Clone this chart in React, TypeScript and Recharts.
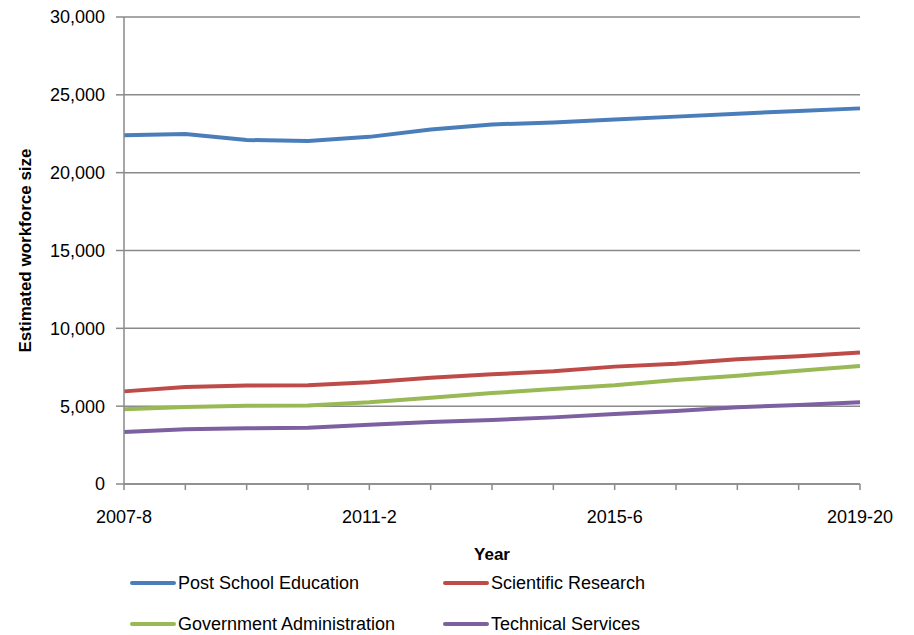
import { CartesianGrid, Legend, Line, LineChart, XAxis, YAxis } from "recharts";

const years = [
  "2007-8",
  "2008-9",
  "2009-10",
  "2010-1",
  "2011-2",
  "2012-3",
  "2013-4",
  "2014-5",
  "2015-6",
  "2016-7",
  "2017-8",
  "2018-9",
  "2019-20",
];

const postSchoolEducation = [
  22400, 22480, 22100, 22030, 22300, 22780, 23100, 23230, 23420, 23600, 23790,
  23960, 24130,
];
const scientificResearch = [
  5950, 6230, 6320, 6340, 6530, 6830, 7050, 7240, 7540, 7730, 8010, 8200, 8440,
];
const governmentAdministration = [
  4800, 4950, 5030, 5050, 5250, 5540, 5840, 6100, 6340, 6680, 6960, 7280, 7580,
];
const technicalServices = [
  3340, 3510, 3580, 3620, 3810, 3980, 4110, 4280, 4500, 4690, 4930, 5080, 5250,
];

const yTicks = [0, 5000, 10000, 15000, 20000, 25000, 30000];

const series = [
  { key: "post", name: "Post School Education", color: "#4a7ebb" },
  { key: "sci", name: "Scientific Research", color: "#be4b48" },
  { key: "gov", name: "Government Administration", color: "#98b954" },
  { key: "tech", name: "Technical Services", color: "#7d60a0" },
];

const data = years.map((year, i) => ({
  year,
  post: postSchoolEducation[i],
  sci: scientificResearch[i],
  gov: governmentAdministration[i],
  tech: technicalServices[i],
}));

const gridColor = "#8a8a8a";
const font = '"Liberation Sans", Arial, sans-serif';
const tickStyle = { fill: "#000", fontSize: 18, fontFamily: font };

// two-column legend under the axis title
function LegendContent() {
  return (
    <div style={{ position: "relative", width: 914, height: 80, fontFamily: font }}>
      {series.map((s, i) => {
        const left = i % 2 === 0 ? 130 : 443;
        const top = i < 2 ? 23 : 64;
        return (
          <div
            key={s.key}
            style={{
              position: "absolute",
              left,
              top: top - 12,
              height: 24,
              display: "flex",
              alignItems: "center",
              whiteSpace: "nowrap",
            }}
          >
            <span
              style={{
                display: "inline-block",
                width: 46,
                height: 4,
                borderRadius: 2,
                background: s.color,
                marginRight: 2,
              }}
            />
            <span style={{ fontSize: 18, color: "#000" }}>{s.name}</span>
          </div>
        );
      })}
    </div>
  );
}

export default function App() {
  return (
    <div style={{ position: "absolute", left: 0, top: 0, fontFamily: font }}>
      <LineChart
        width={914}
        height={635}
        data={data}
        margin={{ top: 17, right: 54, bottom: 71, left: 0 }}
      >
        <CartesianGrid vertical={false} stroke={gridColor} strokeWidth={1.5} />
        <XAxis
          dataKey="year"
          interval={0}
          height={80}
          stroke={gridColor}
          strokeWidth={1.5}
          tickSize={6}
          tickMargin={20}
          tick={tickStyle}
          tickFormatter={(value, index) => (index % 4 === 0 ? value : "")}
          label={{
            value: "Year",
            position: "insideBottom",
            offset: 4,
            fill: "#000",
            fontSize: 17,
            fontWeight: "bold",
          }}
        />
        <YAxis
          width={124}
          domain={[0, 30000]}
          ticks={yTicks}
          stroke={gridColor}
          strokeWidth={1.5}
          tickSize={8}
          tickMargin={11}
          tick={tickStyle}
          tickFormatter={(value) => Number(value).toLocaleString("en-US")}
          label={{
            value: "Estimated workforce size",
            angle: -90,
            position: "insideLeft",
            offset: 25,
            textAnchor: "middle",
            fill: "#000",
            fontSize: 17,
            fontWeight: "bold",
          }}
        />
        {series.map((s) => (
          <Line
            key={s.key}
            dataKey={s.key}
            name={s.name}
            stroke={s.color}
            strokeWidth={4}
            dot={false}
            type="linear"
            isAnimationActive={false}
          />
        ))}
        <Legend
          layout="vertical"
          align="center"
          verticalAlign="middle"
          wrapperStyle={{ left: 0, top: 560, width: 914, height: 80 }}
          content={<LegendContent />}
        />
      </LineChart>
    </div>
  );
}
